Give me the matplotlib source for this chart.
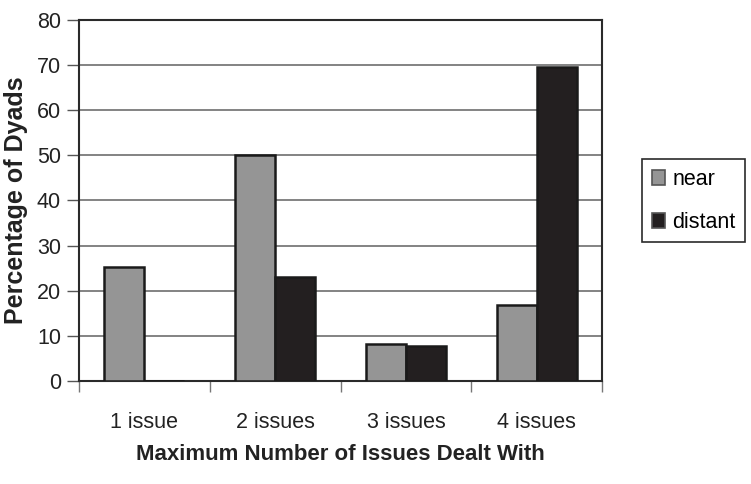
import matplotlib.pyplot as plt
import numpy as np

plt.rcParams['font.family'] = ['Liberation Sans', 'DejaVu Sans']

categories = ['1 issue', '2 issues', '3 issues', '4 issues']
near = [25.3, 50.1, 8.2, 16.9]
distant = [0, 23.1, 7.8, 69.5]

fig = plt.figure(figsize=(7.51, 4.84), dpi=100)
ax = fig.add_axes([0.1052, 0.2128, 0.6964, 0.7459])

x = np.arange(len(categories))
w = 0.306
ax.bar(x - w / 2, near, w, color='#959595', edgecolor='#1a1a1a', linewidth=1.8, label='near', zorder=3)
ax.bar(x + w / 2, distant, w, color='#231f20', edgecolor='#1a1a1a', linewidth=1.8, label='distant', zorder=3)

ax.set_xlim(-0.5, 3.5)
ax.set_ylim(0, 80)
ax.set_yticks(range(0, 81, 10))
ax.yaxis.grid(True, color='#7a7a7a', linewidth=1.3, zorder=0)
ax.tick_params(axis='y', labelsize=15.5, length=9, width=1, color='#555555', pad=4, colors='#222222')

ax.set_xticks(x)
ax.set_xticklabels(categories)
ax.set_xticks(np.arange(-0.5, 4, 1), minor=True)
ax.tick_params(axis='x', which='major', length=0, labelsize=15.5, pad=22, colors='#222222')
ax.tick_params(axis='x', which='minor', length=8, width=1, color='#777777')

for s in ax.spines.values():
    s.set_color('#2a2a2a')
    s.set_linewidth(1.5)

ax.set_ylabel('Percentage of Dyads', fontsize=18, fontweight='bold', labelpad=6, color='#222222')
ax.set_xlabel('Maximum Number of Issues Dealt With', fontsize=16, fontweight='bold', labelpad=8, color='#222222')

leg = fig.legend(loc='center', bbox_to_anchor=(0.924, 0.585), fontsize=15.5,
                 handlelength=0.6, handleheight=0.7, handletextpad=0.35,
                 labelspacing=1.0, borderpad=0.45, borderaxespad=0, fancybox=False, framealpha=1)
leg.get_frame().set_edgecolor('#2a2a2a')
leg.get_frame().set_linewidth(1.2)
for h in leg.legend_handles:
    h.set_edgecolor('#555555')
    h.set_linewidth(1.2)

fig.savefig('out.png', dpi=100)
